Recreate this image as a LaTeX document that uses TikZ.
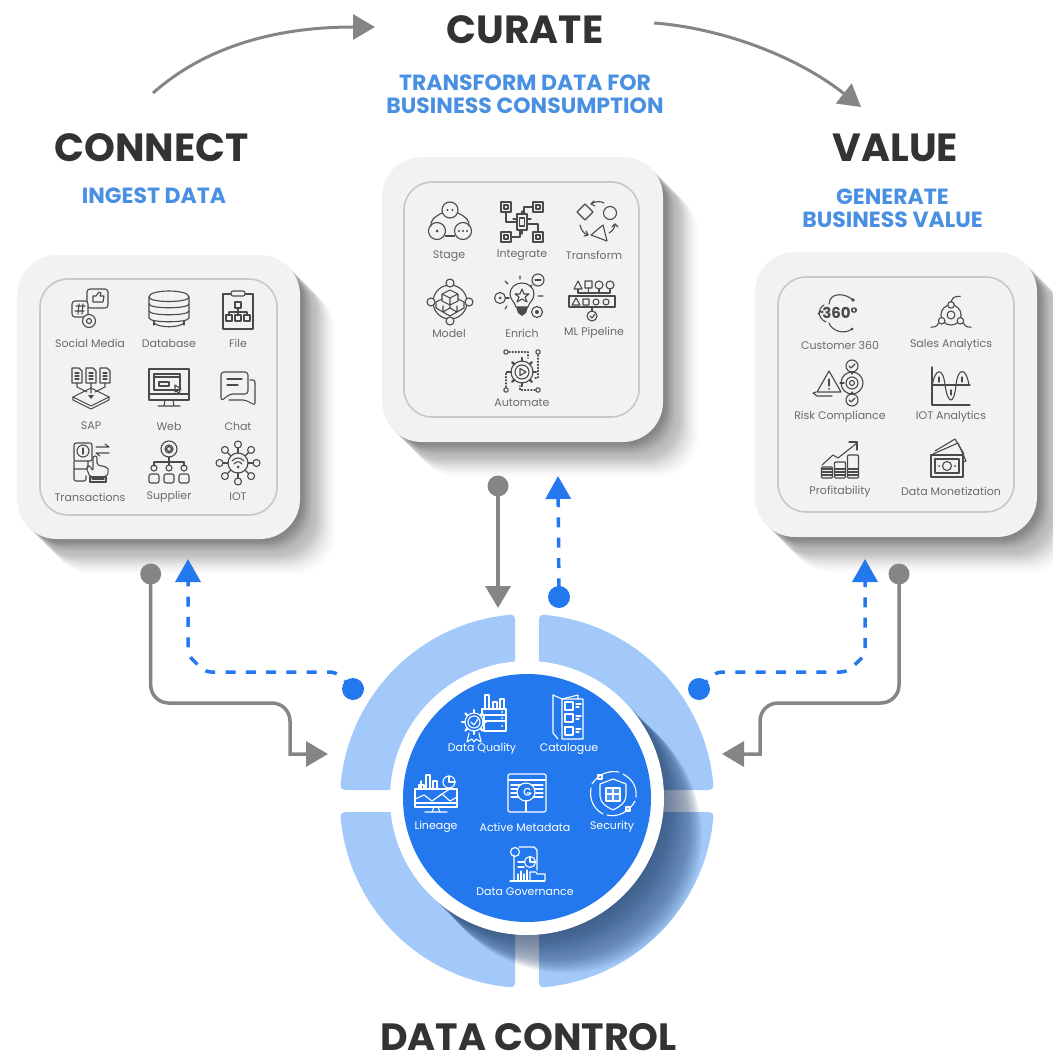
\documentclass[tikz,border=0pt]{standalone}
\usepackage{fontspec}
\setmainfont{Poppins}
\usetikzlibrary{arrows.meta}
\definecolor{cardfill}{HTML}{F2F2F2}
\definecolor{cardline}{HTML}{C8C8C8}
\definecolor{titlecol}{HTML}{333333}
\definecolor{subcol}{HTML}{4A90E2}
\definecolor{labcol}{HTML}{6A6A6A}
\definecolor{iconcol}{HTML}{4A4A4A}
\definecolor{connect}{HTML}{858585}
\definecolor{bluec}{HTML}{2478EE}
\definecolor{quadcol}{HTML}{A2C9FA}
\definecolor{panelc}{HTML}{2478EE}
\definecolor{navy}{HTML}{13305C}
\newcommand\mygear[4]{\foreach \a in {0,45,...,315}{\draw[line width=2.2pt,shift={#1}] (\a:#2) -- (\a:#3);}\draw[shift={#1},fill=#4] (0,0) circle (#2);}
\tikzset{
 titlenode/.style={font=\bfseries\fontsize{39.3}{44}\selectfont,text=titlecol,inner sep=0pt},
 subnode/.style={font=\bfseries\fontsize{22}{23}\selectfont,text=subcol,inner sep=0pt,align=center},
 lab/.style={font=\fontsize{11}{12}\selectfont,text=labcol,inner sep=0pt},
 wlab/.style={font=\fontsize{11}{12}\selectfont,text=white,inner sep=0pt},
 outerc/.style={rectangle,rounded corners=40pt,fill=cardfill,inner sep=0pt},
 innerc/.style={rectangle,rounded corners=28pt,draw=cardline,line width=1.6pt,inner sep=0pt},
 gi/.style={color=iconcol,line width=1.1pt,line join=round,line cap=round},
 wi/.style={color=white,line width=1.1pt,line join=round,line cap=round},
 gline/.style={draw=connect,line width=3.5pt},
 bline/.style={draw=bluec,line width=3.5pt,dash pattern=on 10pt off 10.3pt,dash phase=18.3pt},
 gtip/.style={-{Triangle[length=22pt,width=25pt,fill=connect]}},
 btip/.style={-{Triangle[length=23pt,width=25pt,fill=bluec]}},
 gdot/.style={circle,fill=connect,minimum size=21pt,inner sep=0pt},
 bdot/.style={circle,fill=bluec,minimum size=22pt,inner sep=0pt},
 quad/.pic={\fill[quadcol] (-12,-17) -- (-12,-181) .. controls (-12,-185) and (-14,-186.5) .. (-18,-186.1) arc[start angle=264.5,end angle=185.2,radius=187] .. controls (-186.8,-13) and (-185,-11) .. (-180,-11) -- (-50,-11) -- cycle;},
 icsocial/.pic={
  \draw[rounded corners=3] (-3,-19) rectangle (18,0);
  \draw (3,-6) -- (3,-12) -- (6,-12) -- (9,-16) -- (11,-15) -- (10,-12) -- (14,-12) -- (13,-6) -- cycle;
  \draw[rounded corners=3,fill=cardfill] (-18,-7) rectangle (-2,9);
  \draw (-11,-4)--(-12,6) (-7,-4)--(-8,6) (-14,-2)--(-5,-2) (-15,3)--(-6,3);
  \draw[fill=cardfill] (-1,13) circle (6.5);\draw (-1,13) circle (2.5);},
 icdb/.pic={
  \draw (-20,-13) .. controls (-20,-21) and (20,-21) .. (20,-13) .. controls (20,-7) and (-20,-7) .. (-20,-13);
  \draw (-20,-13) -- (-20,-6) .. controls (-20,-1) and (20,-1) .. (20,-6) -- (20,-13);
  \draw (-20,-6) -- (-20,1) .. controls (-20,6) and (20,6) .. (20,1) -- (20,-6);
  \draw (-20,1) -- (-20,8) .. controls (-20,13) and (20,13) .. (20,8) -- (20,1);
  \draw (-15,15) -- (-15,11) (15,15) -- (15,11);
  \draw (-15,13) .. controls (-10,18) and (10,18) .. (15,13);},
 icfile/.pic={
  \draw (-15,-17) rectangle (15,18);
  \draw[rounded corners=2,fill=cardfill] (-7,-20) rectangle (7,-15);
  \draw (-3,-9) rectangle (3,-3);
  \draw (0,-3)--(0,1) (-9,1)--(9,1) (-9,1)--(-9,4) (0,1)--(0,4) (9,1)--(9,4);
  \draw (-12,4) rectangle (-6,10) (-3,4) rectangle (3,10) (6,4) rectangle (12,10);},
 icsap/.pic={
  \foreach \x in {-14,0,14}{\draw (\x-5,-19) -- (\x+2,-19) -- (\x+5,-16) -- (\x+5,-4) -- (\x-5,-4) -- cycle;
   \draw (\x-2,-14)--(\x+2,-14) (\x-2,-11)--(\x+2,-11) (\x-2,-8)--(\x+2,-8);}
  \draw (-14,-4)--(-14,0)--(-4,5) (14,-4)--(14,0)--(4,5) (0,-4)--(0,6);
  \draw (-18,10)--(0,1)--(18,10)--(0,19)--cycle;
  \draw (-18,10)--(-18,13)--(0,22)--(18,13)--(18,10);
  \fill (-3,8)--(3,8)--(0,12)--cycle;},
 icweb/.pic={
  \draw (-20,-19) rectangle (20,12);
  \draw (-20,6)--(20,6);
  \draw (-15,-14) rectangle (11,2);
  \draw[line width=2.2pt] (-15,-11)--(11,-11);
  \draw (-10,-6) rectangle (0,-2);
  \draw (6,-3)--(12,1)--(10,2)--(11,4)--(9,5)--(8,3)--(6,4)--cycle;
  \draw (-4,12)--(-5,18) (4,12)--(5,18) (-11,18)--(11,18);},
 icchat/.pic={
  \draw[rounded corners=3] (-17,-16) -- (10,-16) -- (10,6) -- (-8,6) -- (-17,13) -- cycle;
  \draw (-11,-9)--(4,-9) (-11,-3)--(0,-3);
  \draw[rounded corners=2] (12,-8) -- (17,-8) -- (17,17) -- (7,12) -- (-9,12);},
 ictrans/.pic={
  \draw[rounded corners=2] (-18,-20) rectangle (0,-2);
  \draw (-9,-12) circle (6);
  \draw (-9,-15)--(-9,-9);
  \draw (4,-16)--(17,-16) (13,-19)--(17,-16) (4,-10)--(17,-10) (4,-10)--(8,-7);
  \draw[rounded corners=2] (-18,-2) -- (-18,18) -- (-6,18) -- (-6,13) (-18,6)--(-4,6)--(-4,-2);
  \draw[rounded corners=2] (-2,14) -- (-6,4) -- (-3,2) -- (1,8) -- (1,-7) -- (5,-7) -- (5,2) -- (15,4) -- (17,8) -- (14,14) -- cycle;
  \draw (-2,14) rectangle (14,19);
  \draw (0,16)--(12,16);},
 icsupplier/.pic={
  \draw (0,-14) circle (8);\draw (0,-14) circle (4);
  \draw (-3,-14)--(0,-17)--(3,-14)--(0,-11)--cycle;
  \draw (0,-6)--(0,2) (-15,-1)--(15,-1) (-15,-1)--(-15,3) (15,-1)--(15,3);
  \foreach \x in {-15,0,15}{\draw (\x,5) circle (3); \draw[rounded corners=2] (\x-5,20) -- (\x-5,11) -- (\x+5,11) -- (\x+5,20) -- cycle;}},
 iciot/.pic={
  \foreach \a in {0,45,...,315}{\draw (\a:10)--(\a:15);\draw (\a:18.5) circle (3.5);}
  \draw (0,0) circle (10);
  \draw (-6,-2) .. controls (-3,-6) and (3,-6) .. (6,-2);
  \draw (-4,1) .. controls (-2,-2) and (2,-2) .. (4,1);
  \fill (0,4) circle (1.5);},
 icstage/.pic={
  \draw (0,-13) circle (8);
  \draw (-13,8) circle (8.5);
  \draw (13,8) circle (8.5);
  \draw (-8,-10) .. controls (-16,-6) and (-20,-2) .. (-19,3);
  \draw (8,-10) .. controls (16,-6) and (20,-2) .. (19,3);
  \draw (-4.5,13)--(4.5,13);
  \fill (-2.5,-13) circle (1.2) (2.5,-13) circle (1.2) (-13,8) circle (1.5) (9,8) circle (1.2) (13,8) circle (1.2) (17,8) circle (1.2);},
 icintegrate/.pic={
  \draw (-5,-8) rectangle (5,8);\draw (-2.5,-4) rectangle (2.5,4);
  \foreach \x/\y in {-16/-15,16/-15,-16/15,16/15}{\draw (\x-5,\y-5) rectangle (\x+5,\y+5);\draw (\x-2,\y-2) rectangle (\x+2,\y+2);}
  \draw (-16,-10)--(-16,0)--(-5,0) (11,-15)--(2,-15)--(2,-8) (-11,15)--(-2,15)--(-2,8) (16,10)--(16,2)--(5,2);
  \draw (-5,-3)--(-9,-3) (5,-3)--(9,-3) (0,-8)--(0,-11) (0,8)--(0,12);},
 ictransform/.pic={
  \draw (-20,-9)--(-12,-17)--(-4,-9)--(-12,-1)--cycle;
  \draw (13,-8) circle (6.5);
  \draw (-6,14)--(10,20)--(6,4)--cycle;
  \draw (-6,-17) .. controls (-2,-20) and (4,-20) .. (7,-18);
  \draw (-6,-17)--(-3,-20) (-6,-17)--(-2,-15);
  \draw (-17,4) .. controls (-16,9) and (-13,13) .. (-9,14);
  \draw (-9,14)--(-13,15) (-9,14)--(-11,10);
  \draw (12,12) .. controls (16,10) and (18,6) .. (18,3);
  \draw (18,3)--(15,6) (18,3)--(21,6);},
 icmodel/.pic={
  \draw (0,0) circle (17);
  \foreach \p in {(0,-19),(0,19),(-19,0),(19,0)}{\draw[fill=cardfill] \p circle (4);}
  \draw (-8,-8)--(0,-12)--(8,-8)--(0,-4)--cycle (-8,-8)--(-8,-1)--(0,3)--(0,-4) (8,-8)--(8,-1)--(0,3);
  \draw (-14,0)--(-8,-3) (-14,0)--(-14,6)--(-7,10)--(0,6)--(0,3) (-7,10)--(-7,4);
  \draw (14,0)--(8,-3) (14,0)--(14,6)--(7,10)--(0,6) (7,10)--(7,4) (-7,10)--(0,14)--(7,10);},
 icenrich/.pic={
  \draw (-6,10) .. controls (-7,5) and (-12,3) .. (-12,-3) .. controls (-12,-10) and (-6,-14) .. (0,-14) .. controls (6,-14) and (12,-10) .. (12,-3) .. controls (12,3) and (7,5) .. (6,10) -- cycle;
  \fill (-6,10)--(6,10)--(4,16)--(0,19)--(-4,16)--cycle;
  \draw (0,-8)--(2,-3)--(7,-3)--(3,0)--(5,5)--(0,2)--(-5,5)--(-3,0)--(-7,-3)--(-2,-3)--cycle;
  \draw (-22,1) circle (5.5);\fill (-22,1) circle (1.5);\draw (-16,1)--(-13,1);
  \draw (16,-17) circle (6);\draw (13,-17)--(19,-17);\draw (10,-12)--(8,-10);
  \draw (15,15) circle (5.5);\fill (15,15) circle (2);
  \draw (16,-1)--(21,-1) (-2,-18)--(-2,-21) (-14,-13)--(-17,-16) (-15,9)--(-17,12);},
 icml/.pic={
  \draw (-18,-11)--(-14,-19)--(-10,-11)--cycle (-7,-19) rectangle (0,-12);
  \draw (7,-15) circle (4);\draw (18,-15) circle (4);
  \draw (-14,-11)--(-14,-7) (-3.5,-12)--(-3.5,-7) (7,-11)--(7,-7) (18,-11)--(18,-7) (-14,-7)--(18,-7);
  \draw (-23,-4) rectangle (23,7);
  \draw (-20,5)--(-16,-2)--(-12,5)--cycle (-9,-1) rectangle (-3,5);
  \draw (4,2) circle (3);\draw (14,2) circle (3);
  \draw (0,7)--(0,11);\draw (0,16) circle (5);\draw (-2,16)--(0,18)--(3,14);},
 icauto/.pic={
  \mygear{(0,0)}{11}{14}{none}
  \draw (0,0) circle (7);
  \draw (-2,-3.5)--(-2,3.5)--(4,0)--cycle;
  \draw (-16,-20) circle (2.2) (16,-20) circle (2.2) (-16,18) circle (2.2) (16,18) circle (2.2);
  \draw[dotted] (-13,-20)--(6,-20)--(6,-14) (16,-17)--(16,6)--(13,6) (-16,15)--(-16,0)--(-13,0);
  \draw[dotted] (13,18)--(-2,18)--(-2,14);},
 ic360/.pic={
  \node[font=\bfseries\fontsize{15}{16}\selectfont,color=iconcol,inner sep=0pt] (t) at (0,0) {360°};
  \draw (-16,-8) .. controls (-24,-3) and (-21,6) .. (-14,9);
  \draw (13,-13) .. controls (5,-20) and (-7,-20) .. (-10,-13) -- (-11,-9);
  \draw (-11,10) .. controls (-8,18) and (4,22) .. (12,16);
  \draw (-19,-2) -- (-22,1);
  \fill (13,-13) circle (1.8) (-18,-1) circle (1.5) (12,16) circle (1.5);},
 icsales/.pic={
  \begin{scope}[scale=.72]
  \draw (0,0) circle (14);\draw (0,0) circle (5.5);
  \draw[fill=cardfill] (0,-14) circle (4.5);
  \draw[fill=cardfill] (-13,8) circle (4.5);
  \draw[fill=cardfill] (13,8) circle (4.5);
  \draw (0,-18) .. controls (2,-25) and (6,-26) .. (13,-26);
  \draw (-17,11) .. controls (-20,17) and (-24,17) .. (-28,17);
  \draw (17,11) .. controls (20,17) and (24,17) .. (28,17);
  \end{scope}},
 icrisk/.pic={
  \draw (-23,9)--(-11,-12)--(1,9)--cycle;
  \draw (-11,-4)--(-11,3);\fill (-11,6) circle (1);
  \draw (-27,10)--(-23,13)--(-8,13) (-27,10)--(-24,9);
  \draw (12,0) circle (11);\draw (12,0) circle (6);\draw (12,0) circle (2.5);
  \draw (4,0)--(0,0);
  \draw (12,-17) circle (6);\draw (12,17) circle (6);
  \draw (12,-11)--(12,-9) (12,9)--(12,11);
  \draw (9,-17)--(11,-15)--(15,-19) (9,17)--(11,19)--(15,15);},
 iciotana/.pic={
  \draw (-19,-20)--(-19,18)--(19,18);
  \draw (-19,-2)--(19,-2);
  \draw (-19,0) .. controls (-16,-20) and (-8,-20) .. (-6,-2) .. controls (-3,18) and (3,18) .. (5,-2) .. controls (7,-20) and (15,-20) .. (18,-2);
  \draw (-12,-10)--(-12,-5) (11,-10)--(11,-5) (0,3)--(0,8);},
 icprofit/.pic={
  \foreach \x/\h in {-13/11,0/16,13/23}{
   \draw[rounded corners=1] (\x-5.5,18) rectangle (\x+5.5,18-\h);
   \draw (\x-5.5,15)--(\x+5.5,15) (\x-5.5,12)--(\x+5.5,12) (\x-5.5,9)--(\x+5.5,9);}
  \draw (-18,5)--(-7,-5)--(-2,-2)--(17,-17);
  \draw (9,-18)--(17,-18)--(17,-10);},
 icmoney/.pic={
  \draw (-14,-8)--(11,-19)--(19,-1)--(16,0);
  \draw (-12,-11)--(8,-23)--(17,-8);
  \draw[fill=cardfill] (-16,-7) rectangle (16,15);
  \draw (-12,-3) rectangle (12,11);
  \draw (0,4) circle (4.5);
  \fill (-8,4) circle (1) (8,4) circle (1);},
 icdq/.pic={
  \draw (-3,-9) rectangle (21,-3);
  \draw (-1,-3) rectangle (21,3);
  \draw (-1,3) rectangle (21,13);
  \draw (0,-9)--(0,-23)--(4,-23)--(4,-9) (8,-9)--(8,-16)--(12,-16)--(12,-9) (15,-9)--(15,-19)--(19,-19)--(19,-9);
  \fill (17,-6) circle (1) (17,0) circle (1) (17,8) circle (1);
  \mygear{(-11,4)}{9}{12}{panelc}
  \draw (-11,4) circle (6);
  \draw (-14,4)--(-11,7)--(-7,1);
  \draw (-16,15)--(-18,24)--(-13,21)--(-11,24)--(-9,21)--(-4,24)--(-6,15);},
 iccat/.pic={
  \draw (-15,-22)--(-15,16)--(-10,22);
  \draw (-15,-22)--(-6,-18)--(-6,22)--(15,22)--(15,-18)--(-6,-18);
  \draw (-6,-18)--(10,-22)--(10,-18);
  \foreach \y in {-11,1,14}{\draw (-3,\y-4) rectangle (5,\y+4);\draw (8,\y-2)--(13,\y-2) (8,\y+1)--(11,\y+1);}},
 iclin/.pic={
  \draw (-21,-4) rectangle (21,14);
  \draw (-17,-4)--(-17,-8)--(-12,-8)--(-12,-4) (-10,-4)--(-10,-18)--(-6,-18)--(-6,-4) (-3,-4)--(-3,-12)--(1,-12)--(1,-4) (-15,-4)--(-15,-12);
  \draw (-21,6)--(-12,2)--(-4,8)--(6,1)--(14,8)--(21,4);
  \draw (-21,10)--(21,10);
  \draw (13,-11) circle (6);\draw (13,-11)--(13,-17) (13,-11)--(19,-11);
  \draw (3,3)--(15,-5);
  \draw (-2,14)--(-4,19) (2,14)--(4,19) (-11,19)--(11,19);},
 icactive/.pic={
  \draw[rounded corners=1.5] (-19,-19) rectangle (19,19);
  \draw (-19,-13)--(19,-13);
  \foreach \y in {-8,-4,0,4}{\draw (-16,\y)--(16,\y);}
  \draw[fill=panelc] (-1,-1) circle (9);
  \draw (-3,-1) .. controls (-3,-6) and (3,-5) .. (3,-3) (-3,-1) .. controls (-3,3) and (3,3) .. (4,0) -- (0,0);
  \draw[line width=2pt] (-1,8)--(-1,18);},
 icsec/.pic={
  \draw (10,-20) .. controls (19,-15) and (24,-8) .. (23,3);
  \draw (22,7) .. controls (17,17) and (5,24) .. (-6,21);
  \draw (-10,20) .. controls (-19,15) and (-24,6) .. (-22,-6);
  \draw (-21,-10) .. controls (-15,-19) and (-6,-24) .. (6,-22);
  \draw (-15,-19) rectangle (-11,-15) (13,13) rectangle (17,17);
  \draw (0,-15) -- (13,-10) -- (13,2) .. controls (13,9) and (6,13) .. (0,16) .. controls (-6,13) and (-13,9) .. (-13,2) -- (-13,-10) -- cycle;
  \draw[fill=white,fill opacity=.2] (-7,-6) rectangle (7,7);
  \draw (0,-6)--(0,7) (-7,0)--(7,0);},
 icgov/.pic={
  \draw (-13,-10)--(-13,15) (-8,-18)--(7,-18)--(10,-15)--(10,5);
  \draw (-12,-13) circle (4.5);
  \draw (-9,-3)--(-3,-3) (-9,2)--(-3,2);
  \draw (3,-3) circle (5.5);\draw (3,-3)--(3,-8.5) (3,-3)--(8.5,-3);
  \draw (-17,16)--(18,16);
  \draw (-9,15)--(-9,9) (-6,15)--(-6,6) (-3,15)--(-3,9) (0,15)--(0,5);
  \draw (3,15) -- (3,7) -- (9,7) -- (10,9) -- (18,9) -- (18,15);},
}
\begin{document}
\begin{tikzpicture}[x=1pt,y=-1pt]
\useasboundingbox (0,0) rectangle (1052,1056);
% card shadows
\foreach \s in {1,...,36}{
 \pgfmathsetmacro\op{0.028*(1-\s/40)+0.003}
 \fill[black,opacity=\op,rounded corners=40pt,shift={(\s,\s)}] (17,255) rectangle (300,539);
 \fill[black,opacity=\op,rounded corners=40pt,shift={(\s,\s)}] (382,157) rectangle (663,442);
 \fill[black,opacity=\op,rounded corners=40pt,shift={(\s,\s)}] (755,252) rectangle (1037,537);
}
% cards
\node[outerc,minimum width=283pt,minimum height=284pt] (card1) at (158.5,397) {};
\node[innerc,minimum width=237pt,minimum height=236pt] (inner1) at (158.5,397) {};
\node[outerc,minimum width=281pt,minimum height=285pt] (card2) at (522.5,299.5) {};
\node[innerc,minimum width=235pt,minimum height=235pt] (inner2) at (521.5,299.5) {};
\node[outerc,minimum width=282pt,minimum height=285pt] (card3) at (896,394.5) {};
\node[innerc,minimum width=236pt,minimum height=235pt] (inner3) at (896,394.5) {};
% titles
\node[titlenode] (tconnect) at (151.5,148) {CONNECT};
\node[titlenode] (tcurate) at (525,30) {CURATE};
\node[titlenode] (tvalue) at (895.5,148) {VALUE};
\node[titlenode,font=\bfseries\fontsize{38}{44}\selectfont] (tdata) at (528.5,1037) {DATA CONTROL};
\node[subnode] (singest) at (154,196) {INGEST DATA};
\node[subnode] (scurate) at (525,94.5) {TRANSFORM DATA FOR\\BUSINESS CONSUMPTION};
\node[subnode] (svalue) at (892.5,208.5) {GENERATE\\BUSINESS VALUE};
% top arrows
\coordinate (ca) at (153,93); \coordinate (cb) at (375,27);
\coordinate (cc) at (654,23); \coordinate (cd) at (861,107);
\draw[draw=connect,line width=3pt,gtip] (ca) .. controls (205,47) and (275,27) .. (cb);
\draw[draw=connect,line width=3pt,gtip] (cc) .. controls (720,28) and (795,55) .. (cd);
% hub quadrants
\begin{scope}[shift={(527,801)}]
 \pic at (0,0) {quad};
 \pic[xscale=-1] at (0,0) {quad};
 \pic[yscale=-1] at (0,0) {quad};
 \pic[xscale=-1,yscale=-1] at (0,0) {quad};
\end{scope}
% hub shadow
\begin{scope}
 \clip (527,801) circle (187);
 \foreach \s in {1,...,25}{\fill[navy,opacity=.018,shift={(\s,\s)}] (527,798) circle (137);}
 \foreach \s in {26,...,38}{\fill[navy,opacity=.035,shift={(\s,\s)}] (527,798) circle (137);}
\end{scope}
\node[circle,fill=white,minimum size=274pt,inner sep=0pt] (ring) at (527,798) {};
\node[circle,fill=panelc,minimum size=248pt,inner sep=0pt] (panel) at (527,798) {};
% connectors
\node[gdot] (g1) at (150.7,574) {};
\node[gdot] (g2) at (498,486) {};
\node[gdot] (g3) at (899,574) {};
\node[bdot] (b1) at (353,689) {};
\node[bdot] (b2) at (559,597) {};
\node[bdot] (b3) at (699,689) {};
\coordinate (t1) at (328,754); \coordinate (t2) at (498,608); \coordinate (t3) at (722,754);
\coordinate (u1) at (188,559); \coordinate (u2) at (558,476); \coordinate (u3) at (865,559);
\draw[gline,gtip,rounded corners=18pt] (g1.center) -- (150.7,703) -- (290,703) [sharp corners] -- (290,754) -- (t1);
\draw[gline,gtip] (g2.center) -- (t2);
\draw[gline,gtip,rounded corners=18pt] (g3.center) -- (899,703) -- (760,703) [sharp corners] -- (760,754) -- (t3);
\draw[bline,btip,rounded corners=6pt] (b1.center) -- (336,672) -- (205,672) -- (188,655) -- (u1);
\draw[bline,btip,dash phase=11.6pt] (b2.center) -- (u2);
\draw[bline,btip,rounded corners=6pt] (b3.center) -- (716,672) -- (847,672) -- (865,655) -- (u3);
% labels card 1
\node[lab] (l1) at (90,343) {Social Media};
\node[lab] (l2) at (169,343) {Database};
\node[lab] (l3) at (238,343) {File};
\node[lab] (l4) at (91,426) {SAP};
\node[lab] (l5) at (169,426) {Web};
\node[lab] (l6) at (238,426) {Chat};
\node[lab] (l7) at (90,497) {Transactions};
\node[lab] (l8) at (169,497) {Supplier};
\node[lab] (l9) at (238,497) {IOT};
% labels card 2
\node[lab] (m1) at (449,256) {Stage};
\node[lab] (m2) at (522,255) {Integrate};
\node[lab] (m3) at (594,255) {Transform};
\node[lab] (m4) at (449,333) {Model};
\node[lab] (m5) at (522,333) {Enrich};
\node[lab] (m6) at (594,333) {ML Pipeline};
\node[lab] (m7) at (522,403) {Automate};
% labels card 3
\node[lab] (n1) at (840,345) {Customer 360};
\node[lab] (n2) at (951,345) {Sales Analytics};
\node[lab] (n3) at (840,417) {Risk Compliance};
\node[lab] (n4) at (951,417) {IOT Analytics};
\node[lab] (n5) at (840,492) {Profitability};
\node[lab] (n6) at (951,491) {Data Monetization};
% labels hub
\node[wlab] (h1) at (482,749) {Data Quality};
\node[wlab] (h2) at (569,749) {Catalogue};
\node[wlab] (h3) at (436,827) {Lineage};
\node[wlab] (h4) at (525,827) {Active Metadata};
\node[wlab] (h5) at (612,827) {Security};
\node[wlab] (h6) at (525,892) {Data Governance};
% icons
\begin{scope}[gi]
 \pic at (90,308) {icsocial};
 \pic at (169,310) {icdb};
 \pic at (238,311) {icfile};
 \pic at (91,387) {icsap};
 \pic at (169,388) {icweb};
 \pic at (238,388) {icchat};
 \pic at (92,463) {ictrans};
 \pic at (169,463) {icsupplier};
 \pic at (238,463) {iciot};
 \pic at (450,223) {icstage};
 \pic at (522,222) {icintegrate};
 \pic at (597,221) {ictransform};
 \pic at (450,302) {icmodel};
 \pic at (522,297) {icenrich};
 \pic at (592,300) {icml};
 \pic at (522,372) {icauto};
 \pic at (840,313) {ic360};
 \pic at (951,315) {icsales};
 \pic at (840,383) {icrisk};
 \pic at (951,387) {iciotana};
 \pic at (840,460) {icprofit};
 \pic at (947,462) {icmoney};
\end{scope}
\begin{scope}[wi]
 \pic at (485,718) {icdq};
 \pic at (568,717) {iccat};
 \pic at (436,793) {iclin};
 \pic at (527,793) {icactive};
 \pic at (613,794) {icsec};
 \pic at (527,865) {icgov};
\end{scope}
\end{tikzpicture}
\end{document}
